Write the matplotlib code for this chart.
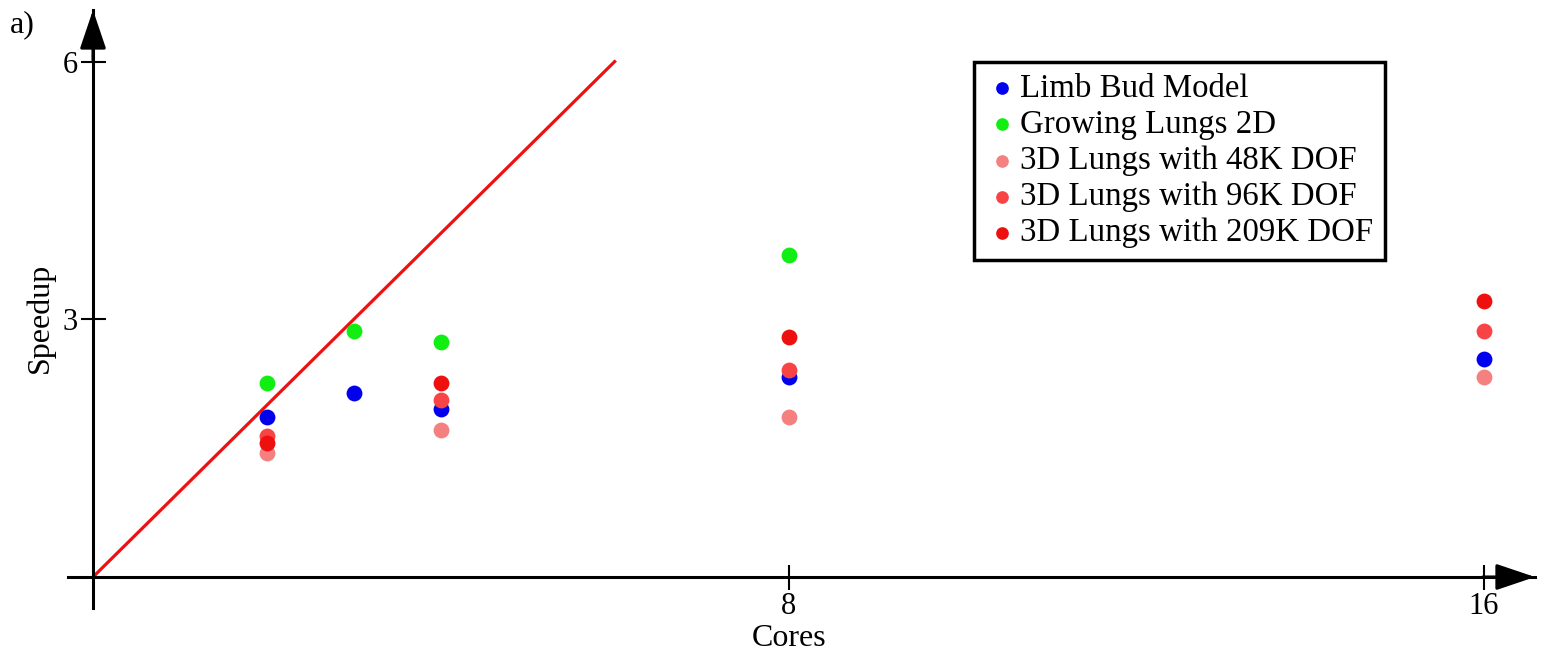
import matplotlib
matplotlib.use("Agg")
import matplotlib.pyplot as plt

plt.rcParams['font.family'] = ['Liberation Serif', 'DejaVu Serif']

# Speedup measurements per core count
cores = [2, 3, 4, 8, 16]
limb_bud = [1.86, 2.14, 1.96, 2.33, 2.54]
lungs_2d_cores = [2, 3, 4, 8]
lungs_2d = [2.26, 2.86, 2.74, 3.75]
lungs_3d_cores = [2, 4, 8, 16]
lungs_48k = [1.44, 1.71, 1.86, 2.33]
lungs_96k = [1.64, 2.06, 2.41, 2.86]
lungs_209k = [1.56, 2.26, 2.79, 3.21]
ideal = [0, 6]

W, H = 1543, 654
fig = plt.figure(figsize=(W / 100, H / 100), dpi=100)
# axes box in pixels: left 68, right 1535, top 10, bottom 608
ax = fig.add_axes([68 / W, 1 - 608 / H, (1535 - 68) / W, (608 - 10) / H])
x0 = -(93 - 68) / 86.94
x1 = (1535 - 93) / 86.94
y0 = -(608 - 577) / 85.9
y1 = (577 - 10) / 85.9
ax.set_xlim(x0, x1)
ax.set_ylim(y0, y1)

ax.plot(ideal, ideal, color='#ee1111', lw=2.3, zorder=2)

s = 130
ax.scatter(cores, limb_bud, s=s, color='#0000ee', label='Limb Bud Model', zorder=3, linewidths=0)
ax.scatter(lungs_2d_cores, lungs_2d, s=s, color='#11ee11', label='Growing Lungs 2D', zorder=3, linewidths=0)
ax.scatter(lungs_3d_cores, lungs_48k, s=s, color='#f48080', label='3D Lungs with 48K DOF', zorder=3, linewidths=0)
ax.scatter(lungs_3d_cores, lungs_96k, s=s, color='#f84444', label='3D Lungs with 96K DOF', zorder=3, linewidths=0)
ax.scatter(lungs_3d_cores, lungs_209k, s=s, color='#ee0f0f', label='3D Lungs with 209K DOF', zorder=3, linewidths=0)

# axes through the origin with arrows
for side in ['top', 'right']:
    ax.spines[side].set_visible(False)
ax.spines['left'].set_position(('data', 0))
ax.spines['bottom'].set_position(('data', 0))
ax.spines['left'].set_linewidth(2.2)
ax.spines['bottom'].set_linewidth(2.2)
arrow = dict(arrowstyle='-|>,head_length=0.8,head_width=0.27', mutation_scale=30,
             color='black', lw=2.2, shrinkA=0, shrinkB=0)
ax.annotate('', xy=(0, y1), xytext=(0, y1 - 0.6), arrowprops=arrow, annotation_clip=False)
ax.annotate('', xy=(x1, 0), xytext=(x1 - 0.6, 0), arrowprops=arrow, annotation_clip=False)

ax.set_xticks([8, 16])
ax.set_yticks([3, 6])
ax.tick_params(direction='inout', length=18, width=1.5, labelsize=22, pad=2)

fig.text(40 / W, 1 - 318 / H, 'Speedup', rotation=90, ha='center', va='center', fontsize=23)
fig.text(789 / W, 1 - 639 / H, 'Cores', ha='center', va='center', fontsize=23)
fig.text(10 / W, 1 - 25 / H, 'a)', ha='left', va='center', fontsize=23)

leg = fig.legend(loc='upper left', bbox_to_anchor=(974 / W, 1 - 62 / H), fontsize=23.7,
                 fancybox=False, framealpha=1, edgecolor='black', markerscale=0.8,
                 handletextpad=0.05, handlelength=1.0, labelspacing=0.17, borderpad=0.35,
                 borderaxespad=0)
leg.get_frame().set_linewidth(2.5)

fig.savefig('out.png', dpi=100)
